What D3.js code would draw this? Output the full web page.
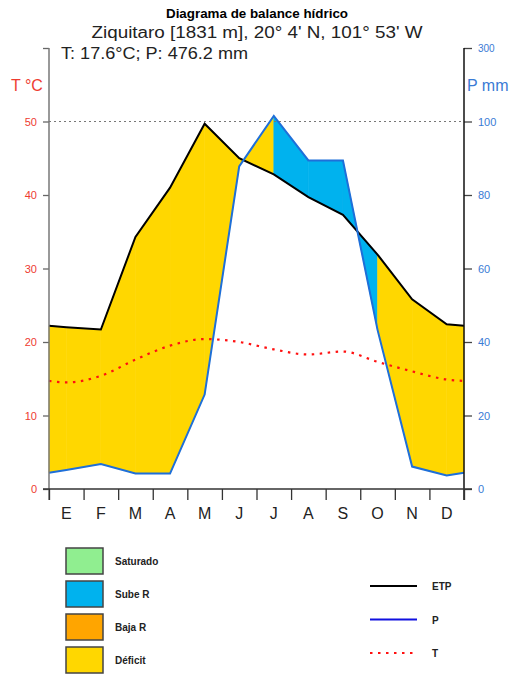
<!DOCTYPE html>
<html>
<head>
<meta charset="utf-8">
<script src="https://cdn.jsdelivr.net/npm/d3@7"></script>
<style>
  body { margin: 0; background: #fff; }
  svg { display: block; }
  text { font-family: "Liberation Sans", Arial, sans-serif; }
</style>
</head>
<body>
<svg id="chart" width="513" height="675"></svg>
<script>
// Monthly climate values for the station
const months = ["E", "F", "M", "A", "M", "J", "J", "A", "S", "O", "N", "D"];
const etpMm  = [44.0, 43.4, 68.6, 82.0, 99.4, 90.0, 85.6, 79.4, 74.6, 63.8, 51.6, 44.8];
const precMm = [5.2, 6.8, 4.2, 4.2, 25.7, 87.8, 101.5, 89.4, 89.4, 43.3, 6.1, 3.7];
const tempC  = [14.5, 15.4, 17.6, 19.5, 20.4, 20.0, 19.0, 18.3, 18.7, 17.3, 16.0, 14.9];
// Water balance state of each month (colours the band that starts at that month)
const monthState = ["Déficit", "Déficit", "Déficit", "Déficit", "Déficit", "Déficit",
                    "Sube R", "Sube R", "Sube R", "Déficit", "Déficit", "Déficit"];

const leftTicks = [0, 10, 20, 30, 40, 50, 60];
const leftTickLabels = ["0", "10", "20", "30", "40", "50", ""];
const rightTicks = [0, 20, 40, 60, 80, 100, 120];
const rightTickLabels = ["0", "20", "40", "60", "80", "100", "300"];

const stateNames = ["Saturado", "Sube R", "Baja R", "Déficit"];
const stateColors = ["#90EE90", "#00B2EE", "#FFA500", "#FFD700"];
const lineNames = ["ETP", "P", "T"];

const RED = "#EE3B30", BLUE = "#3A7BD5";
const svg = d3.select("#chart");

const x = d3.scaleLinear().domain([0, 12]).range([49, 464]);
const yT = d3.scaleLinear().domain([0, 60]).range([489, 48]);
const yP = d3.scaleLinear().domain([0, 120]).range([489, 48]);
const fill = d3.scaleOrdinal().domain(stateNames).range(stateColors);

// The year wraps: curves begin and end halfway between December and January
const wrap = arr => {
  const edge = (arr[0] + arr[11]) / 2;
  return [[0, edge]].concat(arr.map((v, i) => [i + 0.5, v]), [[12, edge]]);
};
const etpPts = wrap(etpMm), pPts = wrap(precMm), tPts = wrap(tempC);

// Bands between ETP and P, one per month-to-month interval
const segStates = [monthState[11]].concat(monthState);
const bands = svg.append("g");
segStates.forEach((st, k) => {
  const a = etpPts.slice(k, k + 2).map(d => [x(d[0]), yP(d[1])]);
  const b = pPts.slice(k, k + 2).map(d => [x(d[0]), yP(d[1])]).reverse();
  bands.append("path")
    .attr("d", "M" + a.concat(b).map(p => p.join(",")).join("L") + "Z")
    .attr("fill", fill(st))
    .attr("stroke", fill(st))
    .attr("stroke-width", 0.6);
});

// Reference line at 50 °C / 100 mm
svg.append("line")
  .attr("x1", x(0)).attr("x2", x(12))
  .attr("y1", yT(50)).attr("y2", yT(50))
  .attr("stroke", "#777").attr("stroke-width", 1.2)
  .attr("stroke-dasharray", "2,3");

// Temperature curve
svg.append("path")
  .datum(tPts)
  .attr("d", d3.line().x(d => x(d[0])).y(d => yT(d[1])).curve(d3.curveMonotoneX))
  .attr("fill", "none").attr("stroke", "#FF1010")
  .attr("stroke-width", 2.2).attr("stroke-dasharray", "2.5,5.5");

// ETP and precipitation lines
const lineP = d3.line().x(d => x(d[0])).y(d => yP(d[1]));
svg.append("path").datum(etpPts).attr("d", lineP)
  .attr("fill", "none").attr("stroke", "#000").attr("stroke-width", 2);
svg.append("path").datum(pPts).attr("d", lineP)
  .attr("fill", "none").attr("stroke", "#1E6FD9").attr("stroke-width", 2);

// Left axis (temperature)
const gl = svg.append("g").attr("transform", `translate(${x(0)},0)`)
  .call(d3.axisLeft(yT).tickValues(leftTicks).tickSize(6).tickPadding(6)
    .tickFormat((d, i) => leftTickLabels[i]));
gl.select(".domain").remove();
gl.selectAll(".tick line").attr("stroke", "#666").attr("stroke-width", 1.3);
gl.selectAll("text").attr("fill", RED).attr("font-size", 11);
svg.append("line").attr("x1", x(0)).attr("x2", x(0)).attr("y1", yT(60)).attr("y2", 500)
  .attr("stroke", "#777").attr("stroke-width", 1.5);

// Right axis (precipitation)
const gr = svg.append("g").attr("transform", `translate(${x(12)},0)`)
  .call(d3.axisRight(yP).tickValues(rightTicks).tickSize(8).tickPadding(6)
    .tickFormat((d, i) => rightTickLabels[i]));
gr.select(".domain").remove();
gr.selectAll(".tick line").attr("stroke", "#444").attr("stroke-width", 1.3);
gr.selectAll("text").attr("fill", BLUE).attr("font-size", 11);
gr.selectAll(".tick").filter(d => d === 120).select("text").attr("font-size", 10);
svg.append("line").attr("x1", x(12)).attr("x2", x(12)).attr("y1", yP(120)).attr("y2", 500)
  .attr("stroke", "#111").attr("stroke-width", 1.5);

// Bottom axis: ticks at month boundaries, labels at month centres
const gb = svg.append("g").attr("transform", `translate(0,${yT(0)})`)
  .call(d3.axisBottom(x).tickValues(d3.range(13)).tickSize(11).tickFormat(""));
gb.select(".domain").remove();
gb.selectAll(".tick line").attr("stroke", "#333").attr("stroke-width", 1.3);
svg.append("line").attr("x1", 43).attr("x2", 472).attr("y1", yT(0)).attr("y2", yT(0))
  .attr("stroke", "#333").attr("stroke-width", 1.5);
svg.append("g").selectAll("text").data(months).join("text")
  .attr("x", (d, i) => x(i + 0.5)).attr("y", 519)
  .attr("text-anchor", "middle").attr("font-size", 16).attr("fill", "#222")
  .text(d => d);

// Titles
svg.append("text").attr("x", 257).attr("y", 18).attr("text-anchor", "middle")
  .attr("font-size", 12).attr("font-weight", "bold")
  .attr("textLength", 182).attr("lengthAdjust", "spacingAndGlyphs")
  .text("Diagrama de balance hídrico");
svg.append("text").attr("x", 257).attr("y", 38).attr("text-anchor", "middle")
  .attr("font-size", 16).attr("fill", "#222")
  .attr("textLength", 331).attr("lengthAdjust", "spacingAndGlyphs")
  .text("Ziquitaro [1831 m], 20° 4' N, 101° 53' W");
svg.append("text").attr("x", 61).attr("y", 59)
  .attr("font-size", 16).attr("fill", "#222")
  .attr("textLength", 187).attr("lengthAdjust", "spacingAndGlyphs")
  .text("T: 17.6°C; P: 476.2 mm");
svg.append("text").attr("x", 11).attr("y", 91)
  .attr("font-size", 16).attr("fill", RED).text("T °C");
svg.append("text").attr("x", 467).attr("y", 91)
  .attr("font-size", 16).attr("fill", BLUE).text("P mm");

// Legend: balance states
const lg = svg.append("g");
stateNames.forEach((name, i) => {
  const y0 = 548 + i * 33;
  lg.append("rect").attr("x", 66).attr("y", y0).attr("width", 37).attr("height", 26)
    .attr("fill", stateColors[i]).attr("stroke", "#444").attr("stroke-width", 1.5);
  lg.append("text").attr("x", 115).attr("y", y0 + 17)
    .attr("font-size", 10).attr("font-weight", "bold").attr("fill", "#222").text(name);
});

// Legend: lines
const lineStyles = [
  { stroke: "#000", dash: null, w: 2 },
  { stroke: "#1010E0", dash: null, w: 2 },
  { stroke: "#FF1010", dash: "2.5,5.5", w: 2.2 }
];
lineNames.forEach((name, i) => {
  const y0 = 586 + i * 33.5;
  const l = lg.append("line").attr("x1", 370).attr("x2", 417).attr("y1", y0).attr("y2", y0)
    .attr("stroke", lineStyles[i].stroke).attr("stroke-width", lineStyles[i].w);
  if (lineStyles[i].dash) l.attr("stroke-dasharray", lineStyles[i].dash);
  lg.append("text").attr("x", 432).attr("y", y0 + 4)
    .attr("font-size", 10).attr("font-weight", "bold").attr("fill", "#222").text(name);
});
</script>
</body>
</html>
